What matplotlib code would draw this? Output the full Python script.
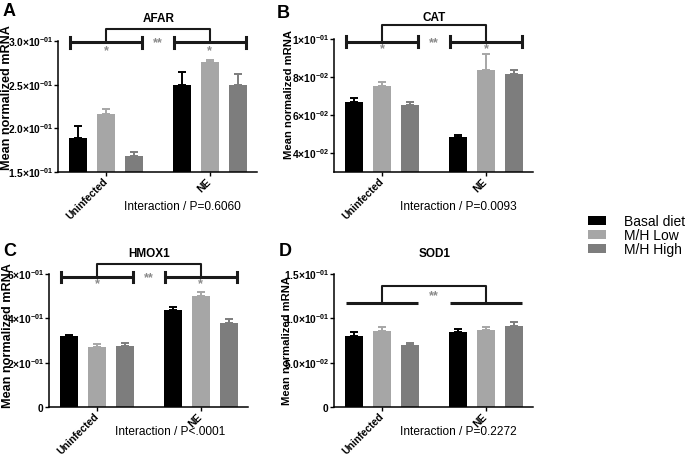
import matplotlib
matplotlib.use('Agg')
import matplotlib.pyplot as plt
from matplotlib.patches import Patch

plt.rcParams['font.family'] = ['Liberation Sans', 'DejaVu Sans']
plt.rcParams['mathtext.fontset'] = 'custom'
plt.rcParams['mathtext.bf'] = 'Liberation Sans:bold'
plt.rcParams['mathtext.rm'] = 'Liberation Sans:bold'

groups = ['Uninfected', 'NE']
series = ['Basal diet', 'M/H Low', 'M/H High']
colors = ['#000000', '#a6a6a6', '#7d7d7d']

afar_mean = [[0.189, 0.216, 0.168], [0.250, 0.276, 0.250]]
afar_err = [[0.014, 0.006, 0.0045], [0.0145, 0.0026, 0.012]]
cat_mean = [[0.0668, 0.0753, 0.0653], [0.0482, 0.0835, 0.0816]]
cat_err = [[0.0020, 0.0021, 0.0015], [0.0014, 0.0086, 0.0019]]
hmox_mean = [[0.320, 0.272, 0.277], [0.438, 0.502, 0.381]]
hmox_err = [[0.005, 0.014, 0.012], [0.011, 0.019, 0.015]]
sod_mean = [[0.0805, 0.0858, 0.0695], [0.0846, 0.0865, 0.0911]]
sod_err = [[0.0038, 0.0041, 0.0027], [0.0031, 0.0034, 0.0052]]

afar_ticks = [0.15, 0.20, 0.25, 0.30]
afar_labels = [r'$\mathbf{1.5{\times}10^{-01}}$', r'$\mathbf{2.0{\times}10^{-01}}$',
               r'$\mathbf{2.5{\times}10^{-01}}$', r'$\mathbf{3.0{\times}10^{-01}}$']
cat_ticks = [0.04, 0.06, 0.08, 0.10]
cat_labels = [r'$\mathbf{4{\times}10^{-02}}$', r'$\mathbf{6{\times}10^{-02}}$',
              r'$\mathbf{8{\times}10^{-02}}$', r'$\mathbf{1{\times}10^{-01}}$']
hmox_ticks = [0, 0.2, 0.4, 0.6]
hmox_labels = [r'$\mathbf{0}$', r'$\mathbf{2{\times}10^{-01}}$',
               r'$\mathbf{4{\times}10^{-01}}$', r'$\mathbf{6{\times}10^{-01}}$']
sod_ticks = [0, 0.05, 0.10, 0.15]
sod_labels = [r'$\mathbf{0}$', r'$\mathbf{5.0{\times}10^{-02}}$',
              r'$\mathbf{1.0{\times}10^{-01}}$', r'$\mathbf{1.5{\times}10^{-01}}$']

STAR_GRAY = '#8a8a8a'
centers = [1.0, 4.68]


def draw_panel(ax, means, errs, ylim, ticks, labels, title, ptext,
               ylab, title_y, top_y, br_y, star_y, p_y, caps=True, single_stars=True):
    for g in range(2):
        for s in range(3):
            x = centers[g] - 1 + s
            ax.bar(x, means[g][s], width=0.64, color=colors[s], zorder=2)
            ax.errorbar(x, means[g][s], yerr=[[0], [errs[g][s]]], color=colors[s],
                        capsize=3, elinewidth=1.4, capthick=1.4, zorder=1)
    ax.set_xlim(-0.7, 6.35)
    ax.set_ylim(*ylim)
    ax.set_yticks(ticks)
    ax.set_yticklabels(labels, fontsize=7.4)
    ax.set_xticks(centers)
    ax.set_xticklabels(groups, rotation=45, ha='right', va='center',
                       rotation_mode='anchor', fontsize=7.5, fontweight='bold')
    for sp in ['top', 'right']:
        ax.spines[sp].set_visible(False)
    for sp in ['left', 'bottom']:
        ax.spines[sp].set_linewidth(1.1)
    ax.tick_params(length=3, width=1, pad=0.3)
    ax.tick_params(axis='x', pad=3)
    lx, ly, lsize = ylab
    ax.set_ylabel('Mean normalized mRNA', fontsize=lsize, fontweight='bold')
    ax.yaxis.set_label_coords(lx, ly)

    tr = ax.get_xaxis_transform()
    # group brackets
    for c in centers:
        ax.plot([c - 1.28, c + 1.28], [br_y, br_y], color='#1a1a1a', lw=2.2,
                transform=tr, clip_on=False, solid_capstyle='butt')
        if caps:
            for e in [c - 1.28, c + 1.28]:
                ax.plot([e, e], [br_y - 0.04, br_y + 0.04], color='#1a1a1a', lw=2.2,
                        transform=tr, clip_on=False)
        if single_stars:
            ax.text(c, star_y, '*', color=STAR_GRAY, ha='center', va='center',
                    fontsize=9, fontweight='bold', transform=tr)
    # top bracket between groups
    ax.plot([centers[0], centers[0], centers[1], centers[1]],
            [br_y, top_y, top_y, br_y], color='#1a1a1a', lw=1.5,
            transform=tr, clip_on=False)
    mid = (centers[0] + centers[1]) / 2
    ss_y = br_y if caps else (br_y + top_y) / 2
    ax.text(mid, ss_y - 0.01, '**', color=STAR_GRAY, ha='center', va='center',
            fontsize=9, fontweight='bold', transform=tr)
    ax.text(0.505, title_y, title, ha='center', va='center', fontsize=8.5,
            fontweight='bold', transform=ax.transAxes)
    ax.text(0.33, p_y, ptext, ha='left', va='center', fontsize=8.6,
            transform=ax.transAxes)


fig = plt.figure(figsize=(6.92, 4.54), dpi=100)
ax_a = fig.add_axes([0.0838, 0.6211, 0.2875, 0.2885])
ax_b = fig.add_axes([0.4827, 0.6211, 0.2876, 0.293])
ax_c = fig.add_axes([0.0708, 0.1035, 0.2876, 0.293])
ax_d = fig.add_axes([0.4827, 0.1035, 0.2876, 0.293])

draw_panel(ax_a, afar_mean, afar_err, (0.15, 0.30), afar_ticks, afar_labels,
           'AFAR', 'Interaction / P=0.6060', (-0.225, 0.57, 9.1),
           1.168, 1.092, 0.99, 0.925, -0.267)
draw_panel(ax_b, cat_mean, cat_err, (0.03, 0.10), cat_ticks, cat_labels,
           'CAT', 'Interaction / P=0.0093', (-0.20, 0.58, 8.1),
           1.16, 1.105, 0.98, 0.925, -0.263)
draw_panel(ax_c, hmox_mean, hmox_err, (0, 0.6), hmox_ticks, hmox_labels,
           'HMOX1', 'Interaction / P<.0001', (-0.176, 0.54, 9.1),
           1.15, 1.075, 0.977, 0.925, -0.19)
draw_panel(ax_d, sod_mean, sod_err, (0, 0.15), sod_ticks, sod_labels,
           'SOD1', 'Interaction / P=0.2272', (-0.211, 0.50, 8.1),
           1.15, 0.91, 0.78, 0.7, -0.19, caps=False, single_stars=False)

for letter, lx, ly in [('A', 0.013, 0.974), ('B', 0.41, 0.971),
                       ('C', 0.0137, 0.447), ('D', 0.412, 0.445)]:
    fig.text(lx, ly, letter, ha='center', va='center', fontsize=13, fontweight='bold')

handles = [Patch(facecolor=c, edgecolor='none') for c in colors]
fig.legend(handles, series, loc='upper left', bbox_to_anchor=(0.849, 0.527),
           frameon=False, fontsize=10, handlelength=1.3, handleheight=0.65,
           handletextpad=1.35, labelspacing=0.0, borderpad=0, borderaxespad=0)

fig.savefig('out.png', dpi=100)
